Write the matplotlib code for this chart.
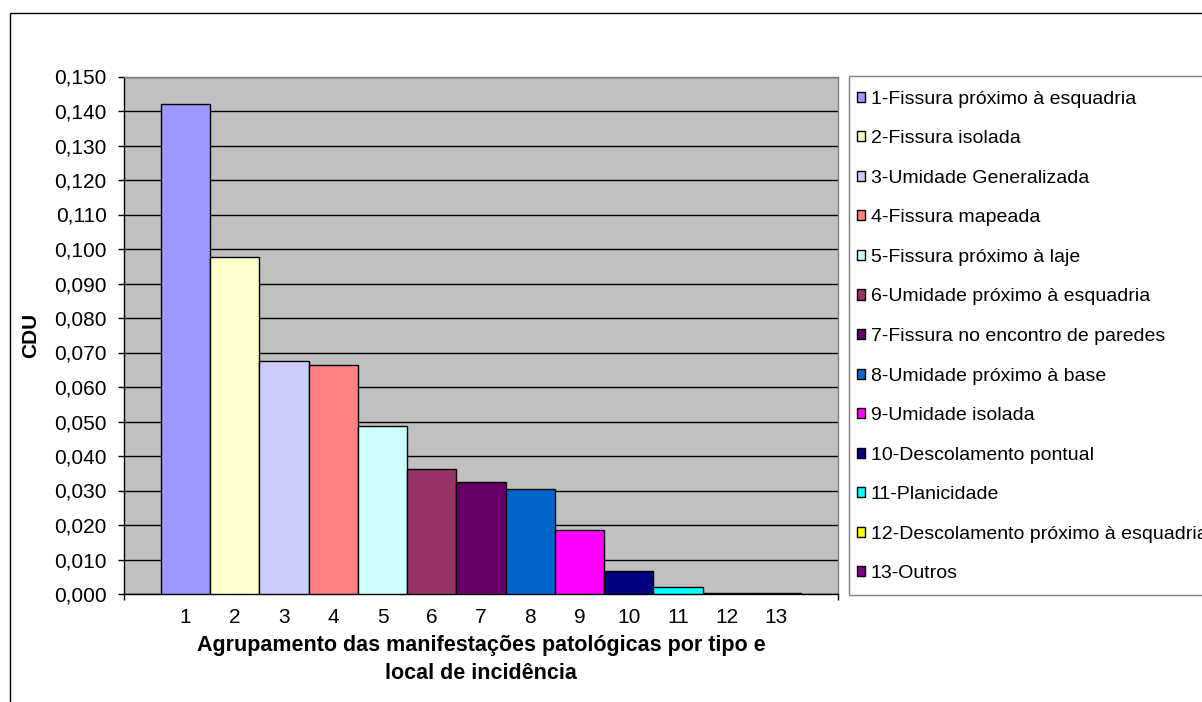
import numpy as np
import matplotlib
matplotlib.use("Agg")
import matplotlib.pyplot as plt
from matplotlib.patches import Rectangle

plt.rcParams['font.family'] = ['Liberation Sans', 'DejaVu Sans']

# Data
groups = ["1", "2", "3", "4", "5", "6", "7", "8", "9", "10", "11", "12", "13"]
legend_labels = [
    "1-Fissura próximo à esquadria",
    "2-Fissura isolada",
    "3-Umidade Generalizada",
    "4-Fissura mapeada",
    "5-Fissura próximo à laje",
    "6-Umidade próximo à esquadria",
    "7-Fissura no encontro de paredes",
    "8-Umidade próximo à base",
    "9-Umidade isolada",
    "10-Descolamento pontual",
    "11-Planicidade",
    "12-Descolamento próximo à esquadria",
    "13-Outros",
]
cdu_values = [0.1421, 0.0978, 0.0674, 0.0665, 0.0488, 0.0363, 0.0325,
              0.0305, 0.0186, 0.0067, 0.0021, 0.0003, 0.0003]
bar_colors = ["#9999FF", "#FFFFCC", "#CCCCFF", "#FF8080", "#CCFFFF", "#993366",
              "#660066", "#0066CC", "#FF00FF", "#000080", "#00FFFF", "#FFFF00",
              "#800080"]
y_ticks = [i / 1000 for i in range(0, 151, 10)]

W, H = 1202, 702
fig = plt.figure(figsize=(W / 100, H / 100), dpi=100)
fig.patch.set_facecolor("white")

# outer chart border
fig.add_artist(Rectangle((9.5 / W, -0.1), 2.0, 1.1 - 12.5 / H,
                         transform=fig.transFigure, fill=False,
                         edgecolor="black", linewidth=1.0, clip_on=False))

ax_l, ax_r, ax_t, ax_b = 124, 838, 76.5, 594
ax = fig.add_axes([ax_l / W, (H - ax_b) / H, (ax_r - ax_l) / W, (ax_b - ax_t) / H])
ax.set_facecolor("#C0C0C0")

x = np.arange(1, len(groups) + 1)
handles = []
for xi, v, c, lab in zip(x, cdu_values, bar_colors, legend_labels):
    b = ax.bar(xi, v, width=1.0, color=c, edgecolor="black", linewidth=1.0,
               label=lab, zorder=3)
    handles.append(b)

ax.set_xlim(-0.25, 14.25)
ax.set_ylim(0, 0.150)

ax.set_yticks(y_ticks)
ax.set_yticklabels([f"{t:.3f}".replace(".", ",") for t in y_ticks], fontsize=15)
ax.yaxis.grid(True, color="black", linewidth=1.0, zorder=1)
ax.set_axisbelow(True)
ax.tick_params(axis="y", length=4.5, width=1.0, pad=8, color="black")

ax.set_xticks(x)
ax.set_xticklabels(groups, fontsize=15)
ax.tick_params(axis="x", which="major", length=0, pad=10)
ax.set_xticks([-0.25, 14.25], minor=True)
ax.tick_params(axis="x", which="minor", length=4, width=1.0, color="black")

for s in ("left", "bottom"):
    ax.spines[s].set_color("black")
    ax.spines[s].set_linewidth(1.0)
for s in ("top", "right"):
    ax.spines[s].set_color("#808080")
    ax.spines[s].set_linewidth(1.0)

ax.set_xlabel("Agrupamento das manifestações patológicas por tipo e\nlocal de incidência",
              fontsize=15.5, fontweight="bold", labelpad=6, linespacing=1.45)
fig.text(31 / W, 1 - 335 / H, "CDU", rotation=90, fontsize=15, fontweight="bold",
         ha="center", va="center")

# legend box drawn separately so entry spacing and padding can be set freely
fig.add_artist(Rectangle((848.5 / W, 1 - 595 / H), 2.0, (595 - 76) / H,
                         transform=fig.transFigure, facecolor="white",
                         edgecolor="#808080", linewidth=1.0, clip_on=False))
leg = fig.legend(handles=handles, labels=legend_labels,
                 loc="upper left", bbox_to_anchor=(848.5 / W, 1 - 82.5 / H),
                 bbox_transform=fig.transFigure, borderaxespad=0,
                 fontsize=14, frameon=False,
                 handlelength=0.42, handleheight=0.42, handletextpad=0.3,
                 labelspacing=1.16, borderpad=0.42)

fig.savefig("out.png", dpi=100)
